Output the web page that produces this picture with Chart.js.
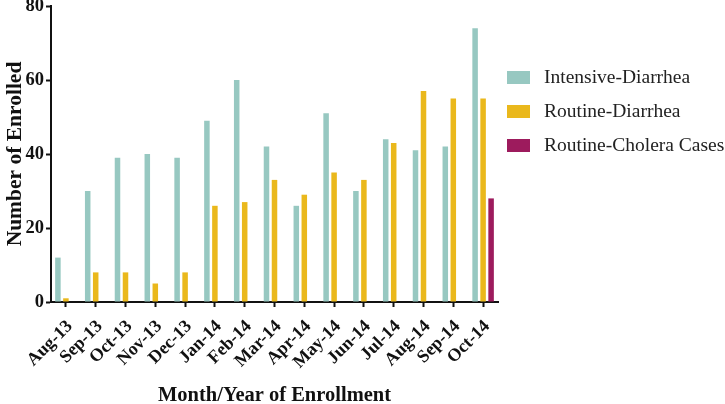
<!DOCTYPE html>
<html>
<head>
<meta charset="utf-8">
<script src="https://cdn.jsdelivr.net/npm/chart.js@4.4.0/dist/chart.umd.min.js"></script>
<style>
  html, body { margin: 0; padding: 0; background: #ffffff; }
  #wrap { position: relative; width: 725px; height: 404px; }
  #legend { position: absolute; left: 507px; top: 64px; font-family: "Liberation Serif", "Times New Roman", serif; font-size: 19.5px; color: #222; }
  .item { position: absolute; left: 0; white-space: nowrap; height: 26px; line-height: 26px; }
  .box { position: absolute; left: 0; top: 7px; width: 23px; height: 13px; }
  .lbl { position: absolute; left: 37px; top: 0; }
</style>
</head>
<body>
<div id="wrap">
  <canvas id="c" width="725" height="404"></canvas>
  <div id="legend"></div>
</div>
<script>
const categories = ["Aug-13","Sep-13","Oct-13","Nov-13","Dec-13","Jan-14","Feb-14","Mar-14","Apr-14","May-14","Jun-14","Jul-14","Aug-14","Sep-14","Oct-14"];
const intensiveDiarrhea = [12, 30, 39, 40, 39, 49, 60, 42, 26, 51, 30, 44, 41, 42, 74];
const routineDiarrhea   = [1, 8, 8, 5, 8, 26, 27, 33, 29, 35, 33, 43, 57, 55, 55];
const routineCholera    = [null, null, null, null, null, null, null, null, null, null, null, null, null, null, 28];
const yTicks = [0, 20, 40, 60, 80];
const seriesNames = ["Intensive-Diarrhea", "Routine-Diarrhea", "Routine-Cholera Cases"];
const seriesColors = ["#97c8c1", "#eab81c", "#9d1b5d"];

const serif = "'Liberation Serif', 'Times New Roman', serif";

const ctx = document.getElementById('c').getContext('2d');
new Chart(ctx, {
  type: 'bar',
  data: {
    labels: categories,
    datasets: [
      { label: seriesNames[0], data: intensiveDiarrhea, backgroundColor: seriesColors[0] },
      { label: seriesNames[1], data: routineDiarrhea, backgroundColor: seriesColors[1] },
      { label: seriesNames[2], data: routineCholera, backgroundColor: seriesColors[2] }
    ]
  },
  options: {
    responsive: false,
    animation: false,
    devicePixelRatio: 1,
    categoryPercentage: 0.805,
    barPercentage: 0.69,
    layout: { padding: { top: 6, right: 227, bottom: 0, left: 0 } },
    plugins: { legend: { display: false }, tooltip: { enabled: false } },
    scales: {
      x: {
        offset: true,
        grid: { offset: false, drawOnChartArea: false, drawTicks: true, tickLength: 5, tickWidth: 2, tickColor: '#111' },
        border: { display: true, color: '#111', width: 2 },
        ticks: { color: '#111', font: { family: serif, size: 18, weight: 'bold' }, minRotation: 45, maxRotation: 45, padding: 9, labelOffset: 4, autoSkip: false },
        title: { display: true, text: 'Month/Year of Enrollment', color: '#111', font: { family: serif, size: 20.5, weight: 'bold', lineHeight: 0.8 }, padding: { top: 0, bottom: 0 } },
        afterFit: (s) => { s.height = 102; s.paddingLeft = 0; s.paddingRight = 0; }
      },
      y: {
        min: 0, max: 80,
        afterBuildTicks: (s) => { s.ticks = yTicks.map(v => ({ value: v })); },
        grid: { drawOnChartArea: false, drawTicks: true, tickLength: 5, tickWidth: 2, tickColor: '#111' },
        border: { display: true, color: '#111', width: 2 },
        ticks: { color: '#111', font: { family: serif, size: 18.5, weight: 'bold' }, padding: 2 },
        title: { display: true, text: 'Number of Enrolled', color: '#111', font: { family: serif, size: 21.5, weight: 'bold' }, padding: { top: 3, bottom: 0 } },
        afterFit: (s) => { s.width = 51; s.paddingTop = 0; s.paddingBottom = 0; }
      }
    }
  }
});

const legend = document.getElementById('legend');
seriesNames.forEach((name, i) => {
  const item = document.createElement('div');
  item.className = 'item';
  item.style.top = (i * 34) + 'px';
  const box = document.createElement('div');
  box.className = 'box';
  box.style.background = seriesColors[i];
  const lbl = document.createElement('div');
  lbl.className = 'lbl';
  lbl.textContent = name;
  item.appendChild(box);
  item.appendChild(lbl);
  legend.appendChild(item);
});
</script>
</body>
</html>
